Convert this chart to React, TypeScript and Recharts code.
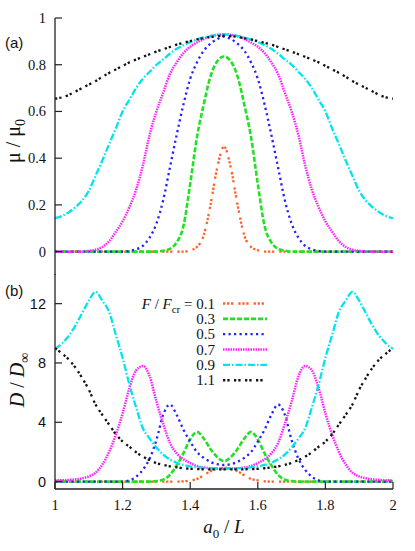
import React from 'react';
import { LineChart, Line, XAxis, YAxis } from 'recharts';

// a0 / L grid, step 0.02
const A0 = [
	1.0, 1.02, 1.04, 1.06, 1.08, 1.1, 1.12, 1.14, 1.16, 1.18, 1.2, 1.22, 1.24, 1.26, 1.28, 1.3, 1.32,
	1.34, 1.36, 1.38, 1.4, 1.42, 1.44, 1.46, 1.48, 1.5, 1.52, 1.54, 1.56, 1.58, 1.6, 1.62, 1.64,
	1.66, 1.68, 1.7, 1.72, 1.74, 1.76, 1.78, 1.8, 1.82, 1.84, 1.86, 1.88, 1.9, 1.92, 1.94, 1.96,
	1.98, 2.0,
];

// panel (a): mu / mu0
const MU_01 = [
	0, 0, 0, 0, 0, 0, 0, 0, 0, 0, 0, 0, 0, 0, 0, 0, 0, 0, 0, 0, 0.006, 0.02, 0.07, 0.2, 0.36, 0.45,
	0.36, 0.2, 0.07, 0.02, 0.006, 0, 0, 0, 0, 0, 0, 0, 0, 0, 0, 0, 0, 0, 0, 0, 0, 0, 0, 0, 0,
];
const MU_03 = [
	0, 0, 0, 0, 0, 0, 0, 0, 0, 0, 0, 0, 0, 0, 0, 0, 0.004, 0.012, 0.04, 0.11, 0.29, 0.49, 0.63, 0.75,
	0.815, 0.835, 0.815, 0.75, 0.63, 0.49, 0.29, 0.11, 0.04, 0.012, 0.004, 0, 0, 0, 0, 0, 0, 0, 0, 0,
	0, 0, 0, 0, 0, 0, 0,
];
const MU_05 = [
	0, 0, 0, 0, 0, 0, 0, 0, 0, 0, 0, 0.003, 0.01, 0.025, 0.06, 0.12, 0.22, 0.36, 0.5, 0.63, 0.74,
	0.81, 0.86, 0.89, 0.91, 0.92, 0.91, 0.89, 0.86, 0.81, 0.74, 0.63, 0.5, 0.36, 0.22, 0.12, 0.06,
	0.025, 0.01, 0.003, 0, 0, 0, 0, 0, 0, 0, 0, 0, 0, 0,
];
const MU_07 = [
	0, 0, 0, 0, 0, 0.003, 0.008, 0.02, 0.045, 0.085, 0.13, 0.19, 0.265, 0.37, 0.5, 0.6, 0.68, 0.76,
	0.81, 0.85, 0.877, 0.895, 0.91, 0.922, 0.928, 0.93, 0.928, 0.922, 0.91, 0.895, 0.877, 0.85, 0.81,
	0.76, 0.68, 0.6, 0.5, 0.37, 0.265, 0.19, 0.13, 0.085, 0.045, 0.02, 0.008, 0.003, 0, 0, 0, 0, 0,
];
const MU_09 = [
	0.143, 0.152, 0.168, 0.19, 0.218, 0.26, 0.325, 0.39, 0.46, 0.527, 0.6, 0.65, 0.7, 0.74, 0.77,
	0.8, 0.823, 0.847, 0.868, 0.884, 0.897, 0.908, 0.917, 0.923, 0.927, 0.93, 0.927, 0.923, 0.917,
	0.908, 0.897, 0.884, 0.868, 0.847, 0.823, 0.8, 0.77, 0.74, 0.7, 0.65, 0.6, 0.527, 0.46, 0.39,
	0.325, 0.26, 0.218, 0.19, 0.168, 0.152, 0.143,
];
const MU_11 = [
	0.655, 0.66, 0.67, 0.685, 0.7, 0.715, 0.73, 0.748, 0.765, 0.78, 0.795, 0.81, 0.822, 0.834, 0.845,
	0.856, 0.866, 0.876, 0.886, 0.894, 0.901, 0.908, 0.914, 0.919, 0.922, 0.924, 0.922, 0.919, 0.914,
	0.908, 0.901, 0.894, 0.886, 0.876, 0.866, 0.856, 0.845, 0.834, 0.822, 0.81, 0.795, 0.78, 0.765,
	0.748, 0.73, 0.715, 0.7, 0.685, 0.67, 0.66, 0.655,
];

// panel (b): D / D_inf
const D_01 = [
	0, 0, 0, 0, 0, 0, 0, 0, 0, 0, 0, 0, 0, 0, 0, 0, 0, 0, 0, 0.02, 0.08, 0.18, 0.42, 0.7, 0.87, 0.93,
	0.87, 0.7, 0.42, 0.18, 0.08, 0.02, 0, 0, 0, 0, 0, 0, 0, 0, 0, 0, 0, 0, 0, 0, 0, 0, 0, 0, 0,
];
const D_03 = [
	0, 0, 0, 0, 0, 0, 0, 0, 0, 0, 0, 0, 0, 0, 0, 0.03, 0.13, 0.45, 1.1, 1.9, 2.85, 3.35, 2.9, 2.2,
	1.65, 1.38, 1.65, 2.2, 2.9, 3.35, 2.85, 1.9, 1.1, 0.45, 0.13, 0.03, 0, 0, 0, 0, 0, 0, 0, 0, 0, 0,
	0, 0, 0, 0, 0,
];
const D_05 = [
	0, 0, 0, 0, 0, 0, 0, 0, 0, 0, 0, 0.08, 0.33, 0.8, 1.55, 2.8, 4.5, 5.2, 4.5, 3.5, 2.7, 2.0, 1.6,
	1.33, 1.17, 1.12, 1.17, 1.33, 1.6, 2.0, 2.7, 3.5, 4.5, 5.2, 4.5, 2.8, 1.55, 0.8, 0.33, 0.08, 0, 0,
	0, 0, 0, 0, 0, 0, 0, 0, 0,
];
const D_07 = [
	0.08, 0.09, 0.11, 0.15, 0.22, 0.35, 0.6, 1.15, 2.0, 3.15, 4.6, 6.3, 7.5, 7.8, 7.1, 5.4, 3.9, 2.6,
	1.9, 1.5, 1.25, 1.05, 0.95, 0.9, 0.87, 0.86, 0.87, 0.9, 0.95, 1.05, 1.25, 1.5, 1.9, 2.6, 3.9, 5.4,
	7.1, 7.8, 7.5, 6.3, 4.6, 3.15, 2.0, 1.15, 0.6, 0.35, 0.22, 0.15, 0.11, 0.09, 0.08,
];
const D_09 = [
	8.95, 9.3, 9.8, 10.5, 11.35, 12.2, 12.8, 12.2, 11.45, 9.9, 8.35, 6.55, 5.0, 3.6, 2.9, 2.3, 1.82,
	1.5, 1.27, 1.12, 1.02, 0.96, 0.93, 0.9, 0.89, 0.88, 0.89, 0.9, 0.93, 0.96, 1.02, 1.12, 1.27, 1.5,
	1.82, 2.3, 2.9, 3.6, 5.0, 6.55, 8.35, 9.9, 11.45, 12.2, 12.8, 12.2, 11.35, 10.5, 9.8, 9.3, 8.95,
];
const D_11 = [
	9.0, 8.65, 8.25, 7.7, 7.0, 6.2, 5.2, 4.5, 3.85, 3.2, 2.7, 2.35, 1.98, 1.68, 1.45, 1.25, 1.13,
	1.03, 0.96, 0.9, 0.86, 0.84, 0.83, 0.82, 0.82, 0.82, 0.82, 0.82, 0.83, 0.84, 0.86, 0.9, 0.96,
	1.03, 1.13, 1.25, 1.45, 1.68, 1.98, 2.35, 2.7, 3.2, 3.85, 4.5, 5.2, 6.2, 7.0, 7.7, 8.25, 8.65, 9.0,
];

const F_LABELS = ['0.1', '0.3', '0.5', '0.7', '0.9', '1.1'];
const X_TICKS = [1, 1.2, 1.4, 1.6, 1.8, 2];
const MU_TICKS = [0, 0.2, 0.4, 0.6, 0.8, 1];
const D_TICKS = [0, 4, 8, 12];

const SERIES = [
	{ key: 's01', mu: MU_01, d: D_01, color: '#ff6028', dash: '2.3 1.7 2.3 1.7 2.3 5', width: 2.3 },
	{ key: 's03', mu: MU_03, d: D_03, color: '#22e022', dash: '5 2', width: 2.6 },
	{ key: 's05', mu: MU_05, d: D_05, color: '#2222ff', dash: '2.2 3.3', width: 2.3 },
	{ key: 's07', mu: MU_07, d: D_07, color: '#ff22ff', dash: '1.5 1', width: 2.5 },
	{ key: 's09', mu: MU_09, d: D_09, color: '#00e4ee', dash: '7 2 1.5 2', width: 2.3 },
	{ key: 's11', mu: MU_11, d: D_11, color: '#111111', dash: '2.3 2 2.3 4.4', width: 2.3 },
];

const muRows = A0.map((a, i) => {
	const row: Record<string, number> = { a };
	SERIES.forEach((s) => (row[s.key] = s.mu[i]));
	return row;
});
const dRows = A0.map((a, i) => {
	const row: Record<string, number> = { a };
	SERIES.forEach((s) => (row[s.key] = s.d[i]));
	return row;
});

const SERIF = '"Liberation Serif", "DejaVu Serif", serif';
const SANS = '"Liberation Sans", Arial, sans-serif';
const FRAME = '#222';
const TICK = 7;

const bottomTick = (label: boolean) => (props: any) => {
	const { x, y, payload } = props;
	return (
		<g>
			<line x1={x} x2={x} y1={y} y2={y - TICK} stroke={FRAME} strokeWidth={1.2} />
			{label && (
				<text x={x} y={y + 21} textAnchor='middle' fontFamily={SERIF} fontSize={14.5} fill='#111'>
					{String(payload.value)}
				</text>
			)}
		</g>
	);
};
const topTick = (props: any) => {
	const { x, y } = props;
	return <line x1={x} x2={x} y1={y} y2={y + TICK} stroke={FRAME} strokeWidth={1.2} />;
};
const leftTick = (font: string) => (props: any) => {
	const { x, y, payload } = props;
	return (
		<g>
			<line x1={x} x2={x + TICK} y1={y} y2={y} stroke={FRAME} strokeWidth={1.2} />
			<text x={x - 9} y={y + 5} textAnchor='end' fontFamily={font} fontSize={14.5} fill='#111'>
				{String(payload.value)}
			</text>
		</g>
	);
};
const rightTick = (props: any) => {
	const { x, y } = props;
	return <line x1={x} x2={x - TICK} y1={y} y2={y} stroke={FRAME} strokeWidth={1.2} />;
};

const axisLine = { stroke: FRAME, strokeWidth: 1.3 };

function Panel({
	rows,
	height,
	margin,
	yDomain,
	yTicks,
	yFont,
	xLabels,
	xHeight,
}: {
	rows: Record<string, number>[];
	height: number;
	margin: { top: number; right: number; bottom: number; left: number };
	yDomain: [number, number];
	yTicks: number[];
	yFont: string;
	xLabels: boolean;
	xHeight: number;
}) {
	return (
		<LineChart width={415} height={height} data={rows} margin={margin}>
			<XAxis
				xAxisId='x'
				dataKey='a'
				type='number'
				domain={[1, 2]}
				ticks={X_TICKS}
				interval={0}
				allowDataOverflow
				height={xHeight}
				tickSize={0}
				tickMargin={0}
				tickLine={false}
				axisLine={axisLine}
				tick={bottomTick(xLabels)}
			/>
			<XAxis
				xAxisId='t'
				orientation='top'
				dataKey='a'
				type='number'
				domain={[1, 2]}
				ticks={X_TICKS}
				interval={0}
				allowDataOverflow
				height={0}
				tickSize={0}
				tickMargin={0}
				tickLine={false}
				axisLine={axisLine}
				tick={topTick}
			/>
			<YAxis
				yAxisId='y'
				type='number'
				domain={yDomain}
				ticks={yTicks}
				interval={0}
				allowDataOverflow
				width={55}
				tickSize={0}
				tickMargin={0}
				tickLine={false}
				axisLine={axisLine}
				tick={leftTick(yFont)}
			/>
			<YAxis
				yAxisId='r'
				orientation='right'
				type='number'
				domain={yDomain}
				ticks={yTicks}
				interval={0}
				allowDataOverflow
				width={0}
				tickSize={0}
				tickMargin={0}
				tickLine={false}
				axisLine={axisLine}
				tick={rightTick}
			/>
			{SERIES.map((s) => (
				<Line
					key={s.key}
					xAxisId='x'
					yAxisId='y'
					type='monotone'
					dataKey={s.key}
					stroke={s.color}
					strokeWidth={s.width}
					strokeDasharray={s.dash}
					dot={false}
					activeDot={false}
					isAnimationActive={false}
				/>
			))}
		</LineChart>
	);
}

function Overlay() {
	return (
		<svg
			width={415}
			height={551}
			style={{ position: 'absolute', left: 0, top: 0, pointerEvents: 'none' }}
		>
			<text x={5} y={48} fontFamily={SANS} fontSize={15} fill='#111'>
				(a)
			</text>
			<text x={5} y={296} fontFamily={SANS} fontSize={15} fill='#111'>
				(b)
			</text>
			<text
				transform='translate(20,141) rotate(-90)'
				textAnchor='middle'
				fontFamily={SERIF}
				fontSize={20}
				fill='#111'
			>
				μ / μ
				<tspan dy={5} fontSize={14}>
					0
				</tspan>
			</text>
			<text
				transform='translate(24,380) rotate(-90)'
				textAnchor='middle'
				fontFamily={SERIF}
				fontSize={20}
				fill='#111'
			>
				<tspan fontStyle='italic'>D</tspan> / <tspan fontStyle='italic'>D</tspan>
				<tspan dy={5} fontSize={14}>
					∞
				</tspan>
			</text>
			<text x={224} y={533} textAnchor='middle' fontFamily={SERIF} fontSize={19} fill='#111'>
				<tspan fontStyle='italic'>a</tspan>
				<tspan dy={5} fontSize={13}>
					0
				</tspan>
				<tspan dy={-5}> / </tspan>
				<tspan fontStyle='italic'>L</tspan>
			</text>
			{SERIES.map((s, i) => {
				const y = 303.5 + i * 15.35;
				return (
					<g key={s.key}>
						<text
							x={215}
							y={y + 5}
							textAnchor='end'
							fontFamily={SERIF}
							fontSize={15}
							fill='#111'
						>
							{i === 0 && (
								<>
									<tspan fontStyle='italic'>F</tspan>
									<tspan> / </tspan>
									<tspan fontStyle='italic'>F</tspan>
									<tspan dy={4} fontSize={11}>
										cr
									</tspan>
									<tspan dy={-4}> = </tspan>
								</>
							)}
							<tspan>{F_LABELS[i]}</tspan>
						</text>
						<line
							x1={223}
							x2={267}
							y1={y}
							y2={y}
							stroke={s.color}
							strokeWidth={s.width}
							strokeDasharray={s.dash}
						/>
					</g>
				);
			})}
		</svg>
	);
}

export default function App() {
	return (
		<div
			style={{
				position: 'absolute',
				left: 0,
				top: 0,
				width: 415,
				height: 551,
				background: '#fff',
				overflow: 'hidden',
			}}
		>
			<div style={{ position: 'absolute', left: 0, top: 0 }}>
				<Panel
					rows={muRows}
					height={275}
					margin={{ top: 18, right: 22, bottom: 0, left: 0 }}
					yDomain={[-0.1, 1]}
					yTicks={MU_TICKS}
					yFont={SERIF}
					xLabels={false}
					xHeight={0}
				/>
			</div>
			<div style={{ position: 'absolute', left: 0, top: 260 }}>
				<Panel
					rows={dRows}
					height={291}
					margin={{ top: 14, right: 22, bottom: 0, left: 0 }}
					yDomain={[-0.5, 14]}
					yTicks={D_TICKS}
					yFont={SANS}
					xLabels={true}
					xHeight={62}
				/>
			</div>
			<Overlay />
		</div>
	);
}
